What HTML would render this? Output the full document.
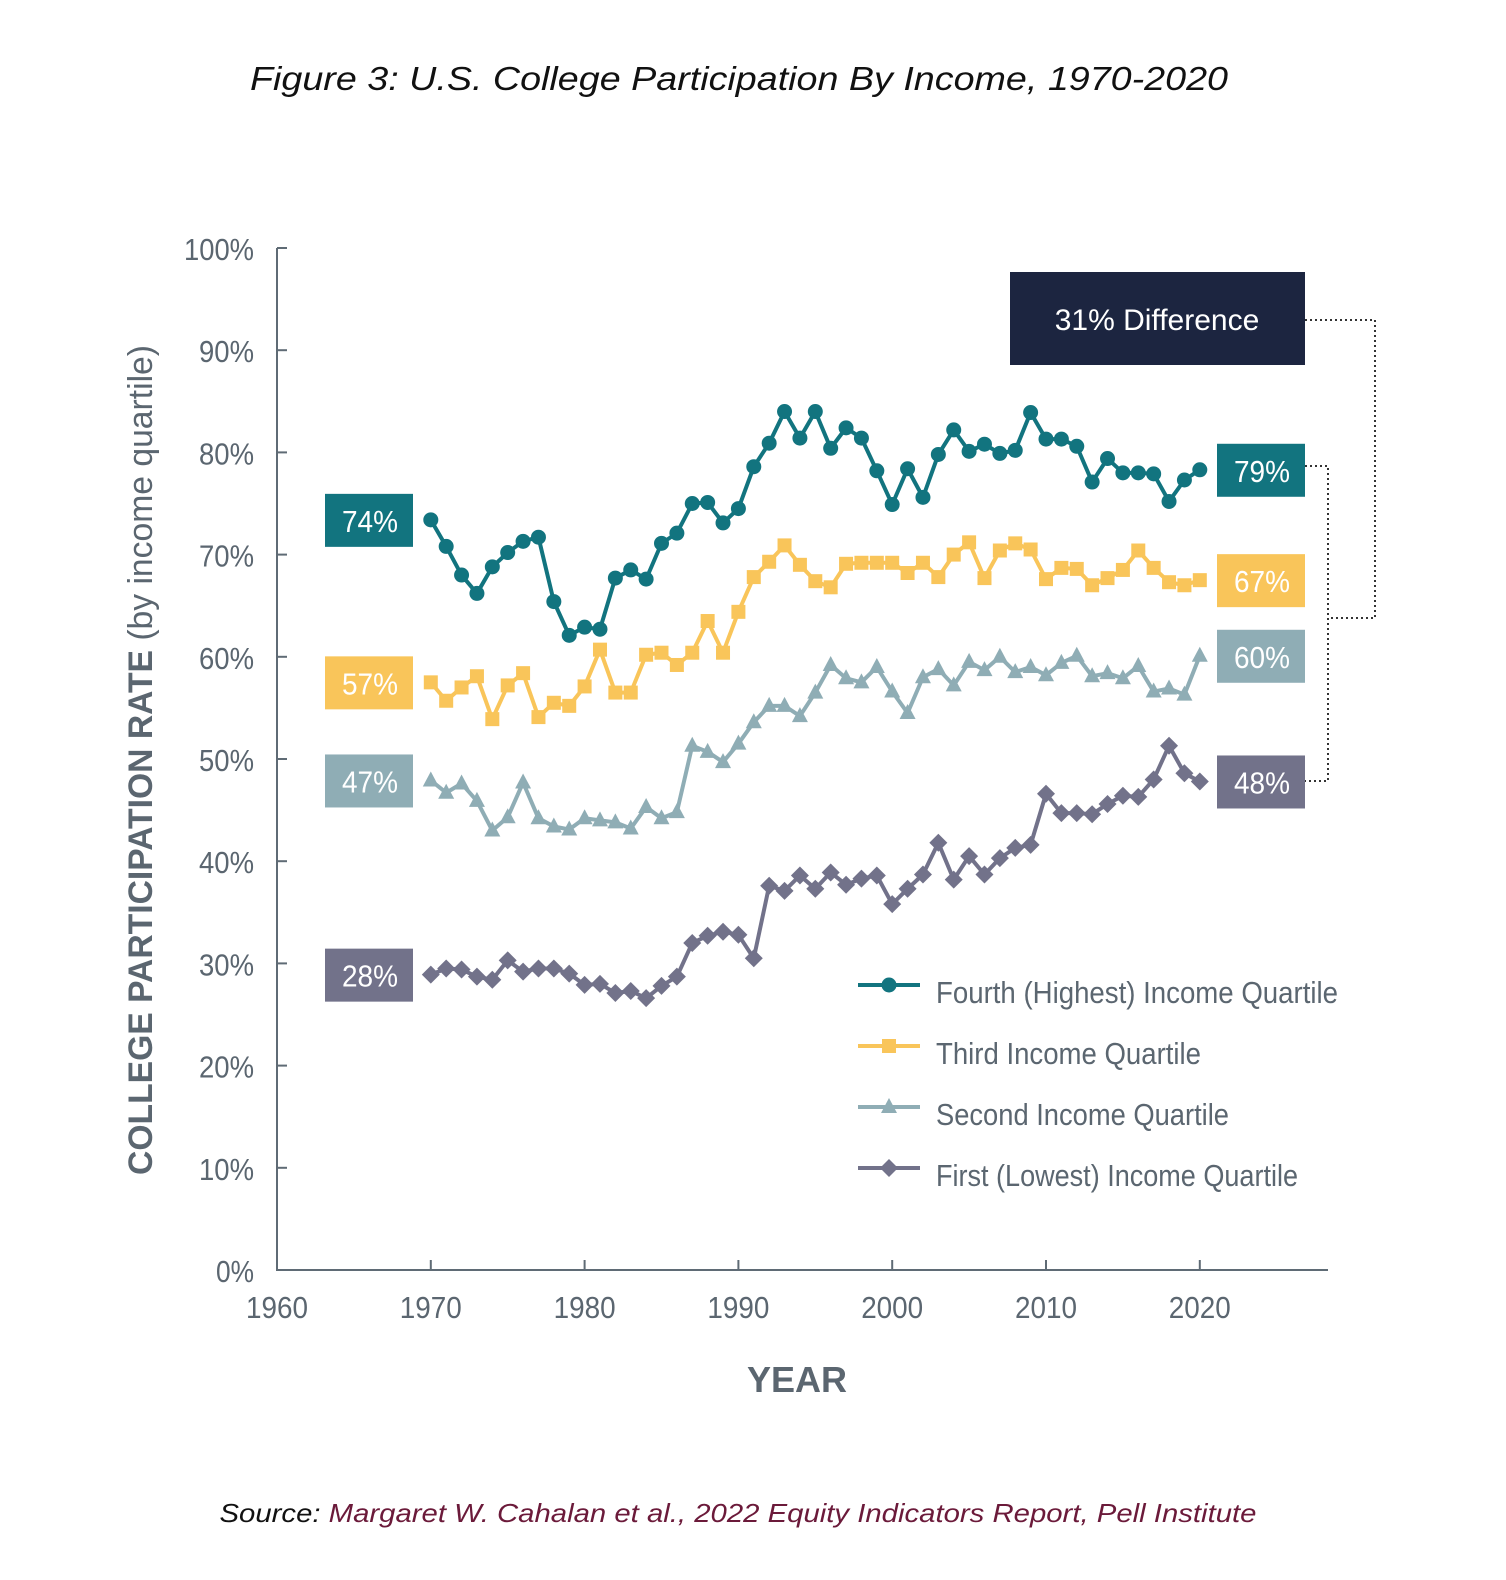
<!DOCTYPE html>
<html><head><meta charset="utf-8"><style>
html,body{margin:0;padding:0;background:#fff;}
svg{display:block;}
text{font-family:"Liberation Sans",sans-serif;}
</style></head><body>
<svg id="chart" width="1506" height="1580" viewBox="0 0 1506 1580">
<text x="739" y="90" text-anchor="middle" font-size="33" font-style="italic" fill="#111" textLength="978" lengthAdjust="spacingAndGlyphs">Figure 3: U.S. College Participation By Income, 1970-2020</text>
<g id="axes"></g>
<g id="series"></g>
<g id="labels"></g>
<text transform="translate(152,760) rotate(-90)" text-anchor="middle" font-size="34" fill="#5b6670" textLength="830" lengthAdjust="spacingAndGlyphs"><tspan font-weight="bold">COLLEGE PARTICIPATION RATE</tspan> (by income quartile)</text>
<text x="797" y="1392" text-anchor="middle" font-size="36" font-weight="bold" fill="#5b6670">YEAR</text>
<rect x="1010" y="272" width="295" height="93" fill="#1c2540"/>
<text x="1157" y="330" text-anchor="middle" font-size="30" fill="#fff">31% Difference</text>
<path d="M1305,320 H1375 V618 H1328 M1305,466 H1328 V781 H1305" fill="none" stroke="#333" stroke-width="2" stroke-dasharray="2,3"/>
<text x="738" y="1522" text-anchor="middle" font-size="26" font-style="italic" fill="#111" textLength="1037" lengthAdjust="spacingAndGlyphs">Source: <tspan fill="#6b1a3a">Margaret W. Cahalan et al., 2022 Equity Indicators Report, Pell Institute</tspan></text>
</svg>
<script>
const years=[];for(let y=1970;y<=2020;y++)years.push(y);
const fourth=[73.4,70.8,68.0,66.2,68.8,70.2,71.3,71.7,65.4,62.1,62.9,62.7,67.7,68.5,67.6,71.1,72.1,75.0,75.1,73.1,74.5,78.6,80.9,84.0,81.4,84.0,80.4,82.4,81.4,78.2,74.9,78.4,75.6,79.8,82.2,80.1,80.8,79.9,80.2,83.9,81.3,81.3,80.6,77.1,79.4,78.0,78.0,77.9,75.2,77.3,78.3];
const third=[57.5,55.7,57.0,58.1,53.9,57.2,58.4,54.1,55.5,55.2,57.1,60.7,56.5,56.5,60.2,60.4,59.2,60.4,63.5,60.4,64.4,67.8,69.3,70.9,69.0,67.4,66.8,69.1,69.2,69.2,69.2,68.2,69.2,67.8,70.0,71.2,67.7,70.4,71.1,70.5,67.6,68.7,68.6,67.0,67.7,68.5,70.4,68.7,67.3,67.0,67.5];
const second=[47.9,46.7,47.6,45.9,43.0,44.3,47.7,44.2,43.4,43.1,44.2,44.0,43.8,43.2,45.3,44.2,44.8,51.3,50.7,49.7,51.5,53.6,55.2,55.2,54.2,56.5,59.2,57.9,57.5,59.0,56.6,54.5,58.0,58.8,57.2,59.5,58.7,60.0,58.5,59.0,58.2,59.4,60.1,58.1,58.4,57.9,59.1,56.6,56.9,56.3,60.1];
const first=[28.9,29.5,29.4,28.7,28.4,30.3,29.2,29.5,29.5,29.0,27.9,28.0,27.1,27.3,26.6,27.8,28.7,32.0,32.7,33.1,32.8,30.5,37.6,37.1,38.6,37.3,38.9,37.7,38.3,38.6,35.8,37.3,38.7,41.8,38.2,40.5,38.7,40.3,41.3,41.6,46.6,44.7,44.7,44.6,45.6,46.4,46.3,48.0,51.3,48.6,47.8];
const yTicks=[0,10,20,30,40,50,60,70,80,90,100];
const xTicks=[1960,1970,1980,1990,2000,2010,2020];
const startLabels=["74%","57%","47%","28%"];
const endLabels=["79%","67%","60%","48%"];
const legendNames=["Fourth (Highest) Income Quartile","Third Income Quartile","Second Income Quartile","First (Lowest) Income Quartile"];

const NS="http://www.w3.org/2000/svg";
const x=v=>277+(v-1960)*15.38;
const y=v=>1270-v*10.22;
function mk(tag,attrs,parent){const e=document.createElementNS(NS,tag);for(const k in attrs)e.setAttribute(k,attrs[k]);parent.appendChild(e);return e;}
const axes=document.getElementById('axes'),ser=document.getElementById('series'),lab=document.getElementById('labels');
const axisC="#5f6b75";
let e=mk('path',{d:`M${x(1960)},${y(100)} V${y(0)} H1328`,fill:'none',stroke:axisC,'stroke-width':2},axes);

yTicks.forEach(t=>{
 let l=mk('line',{x1:x(1960),x2:x(1960)+10,y1:y(t),y2:y(t),stroke:axisC,'stroke-width':2},axes);
 
 let tx=mk('text',{x:254,y:y(t)+12,'text-anchor':'end','font-size':31,fill:'#5b6670',textLength:(t===100?70:(t===0?38:55)),lengthAdjust:'spacingAndGlyphs'},axes);tx.textContent=t+'%';
 
});
xTicks.forEach(t=>{
 let l=mk('line',{x1:x(t),x2:x(t),y1:y(0),y2:y(0)-10,stroke:axisC,'stroke-width':2},axes);
 
 let tx=mk('text',{x:x(t),y:1318,'text-anchor':'middle','font-size':31,fill:'#5b6670',textLength:62,lengthAdjust:'spacingAndGlyphs'},axes);tx.textContent=t;
 
});
const series=[{d:fourth,c:'#12747f',m:'circle',n:'fourth-quartile'},{d:third,c:'#f9c55a',m:'square',n:'third-quartile'},{d:second,c:'#8fadb5',m:'triangle',n:'second-quartile'},{d:first,c:'#72728a',m:'diamond',n:'first-quartile'}];
function marker(m,cx,cy,c,parent){
 if(m==='circle')return mk('circle',{cx,cy,r:7.5,fill:c},parent);
 if(m==='square')return mk('rect',{x:cx-7,y:cy-7,width:14,height:14,fill:c},parent);
 if(m==='triangle')return mk('path',{d:`M${cx},${cy-9} L${cx+8},${cy+6} L${cx-8},${cy+6}Z`,fill:c},parent);
 return mk('path',{d:`M${cx},${cy-9} L${cx+9},${cy} L${cx},${cy+9} L${cx-9},${cy}Z`,fill:c},parent);
}
series.forEach((s,si)=>{
 const g=mk('g',{},ser);
 const p=mk('path',{d:s.d.map((v,i)=>(i?'L':'M')+x(years[i])+','+y(v)).join(' '),fill:'none',stroke:s.c,'stroke-width':4,'stroke-linejoin':'round'},g);
 
 s.d.forEach((v,i)=>{const mm=marker(s.m,x(years[i]),y(v),s.c,g);
  });
 const y0=y(s.d[0]),y1=y(s.d[s.d.length-1]);
 const boxes=[[325,y0,startLabels[si],'start'],[1217,y1,endLabels[si],'end']];
 boxes.forEach(b=>{
  const r=mk('rect',{x:b[0],y:b[1]-26,width:88,height:53,fill:s.c},lab);
  
  const t=mk('text',{x:b[0]+45,y:b[1]+12,'text-anchor':'middle','font-size':31,fill:'#fff',textLength:56,lengthAdjust:'spacingAndGlyphs'},lab);t.textContent=b[2];
  
 });
 const ly=985+si*61;
 const lg=mk('g',{},lab);
 mk('line',{x1:858,x2:920,y1:ly,y2:ly,stroke:s.c,'stroke-width':4},lg);
 marker(s.m,889,ly,s.c,lg);
 const widths=[402,265,293,362];
 const lt=mk('text',{x:936,y:ly+18,'font-size':31,fill:'#5b6670',textLength:widths[si],lengthAdjust:'spacingAndGlyphs'},lg);lt.textContent=legendNames[si];
});
</script>
</body></html>
